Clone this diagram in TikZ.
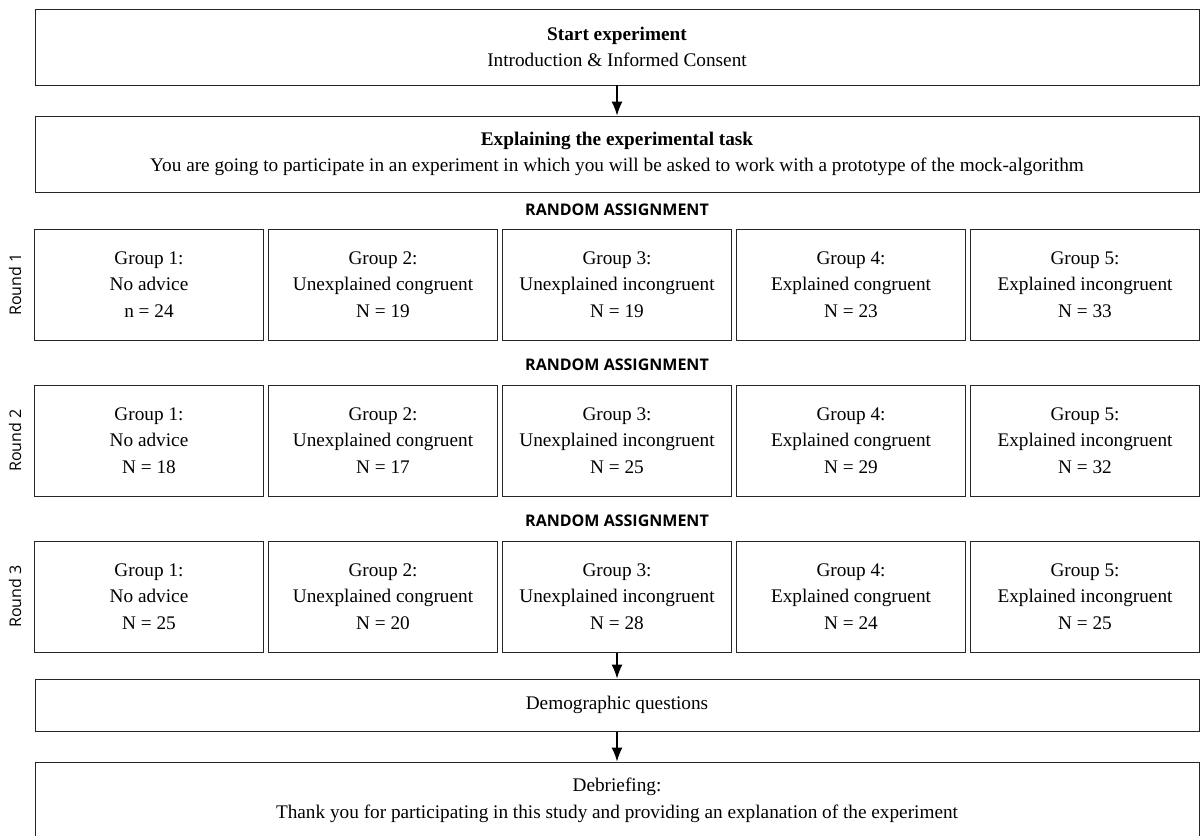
\documentclass[tikz,border=0pt]{standalone}
\usepackage{fontspec}
\setmainfont{Liberation Serif}
\newfontfamily\labelfont{Open Sans}
\usetikzlibrary{arrows.meta}

\begin{document}
\begin{tikzpicture}[every node/.style={font=\fontsize{13.7}{19}\selectfont, align=center}, >={Latex[length=3.5mm, width=2.8mm]}, box/.style={draw=black!85, line width=0.7pt, minimum width=5.725cm, minimum height=2.775cm, inner sep=0pt}, wide/.style={box, minimum width=29.1cm, minimum height=1.9cm}, ra/.style={font=\labelfont\bfseries\fontsize{11.4}{13}\selectfont}, rnd/.style={font=\labelfont\fontsize{11.4}{13}\selectfont, rotate=90}]
	\useasboundingbox (0,0) rectangle (30,-20.875);
	\node[wide] (S) at (15.425,-1.175) {\textbf{Start experiment}\\Introduction \& Informed Consent};
	\node[wide] (E) at (15.425,-3.85) {\textbf{Explaining the experimental task}\\You are going to participate in an experiment in which you will be asked to work with a prototype of the mock-algorithm};
	\draw[->, line width=1pt] (S) -- (E);
	% round 1
	\node[ra] (A1) at (15.425,-5.25) {RANDOM ASSIGNMENT};
	\node[rnd] (R1) at (0.375,-7.1125) {Round 1};
	\node[box] (G11) at (3.725,-7.1125) {Group 1:\\No advice\\n = 24};
	\node[box] (G12) at (9.575,-7.1125) {Group 2:\\Unexplained congruent\\N = 19};
	\node[box] (G13) at (15.425,-7.1125) {Group 3:\\Unexplained incongruent\\N = 19};
	\node[box] (G14) at (21.275,-7.1125) {Group 4:\\Explained congruent\\N = 23};
	\node[box] (G15) at (27.125,-7.1125) {Group 5:\\Explained incongruent\\N = 33};
	% round 2
	\node[ra] (A2) at (15.425,-9.125) {RANDOM ASSIGNMENT};
	\node[rnd] (R2) at (0.375,-11.0125) {Round 2};
	\node[box] (G21) at (3.725,-11.0125) {Group 1:\\No advice\\N = 18};
	\node[box] (G22) at (9.575,-11.0125) {Group 2:\\Unexplained congruent\\N = 17};
	\node[box] (G23) at (15.425,-11.0125) {Group 3:\\Unexplained incongruent\\N = 25};
	\node[box] (G24) at (21.275,-11.0125) {Group 4:\\Explained congruent\\N = 29};
	\node[box] (G25) at (27.125,-11.0125) {Group 5:\\Explained incongruent\\N = 32};
	% round 3
	\node[ra] (A3) at (15.425,-13.025) {RANDOM ASSIGNMENT};
	\node[rnd] (R3) at (0.375,-14.9125) {Round 3};
	\node[box] (G31) at (3.725,-14.9125) {Group 1:\\No advice\\N = 25};
	\node[box] (G32) at (9.575,-14.9125) {Group 2:\\Unexplained congruent\\N = 20};
	\node[box] (G33) at (15.425,-14.9125) {Group 3:\\Unexplained incongruent\\N = 28};
	\node[box] (G34) at (21.275,-14.9125) {Group 4:\\Explained congruent\\N = 24};
	\node[box] (G35) at (27.125,-14.9125) {Group 5:\\Explained incongruent\\N = 25};
	% end of the experiment
	\node[wide, minimum height=1.3cm] (D) at (15.425,-17.625) {Demographic questions};
	\node[wide] (B) at (15.425,-20.0) {Debriefing:\\Thank you for participating in this study and providing an explanation of the experiment};
	\draw[->, line width=1pt] (G33) -- (D);
	\draw[->, line width=1pt] (D) -- (B);
\end{tikzpicture}
\end{document}
